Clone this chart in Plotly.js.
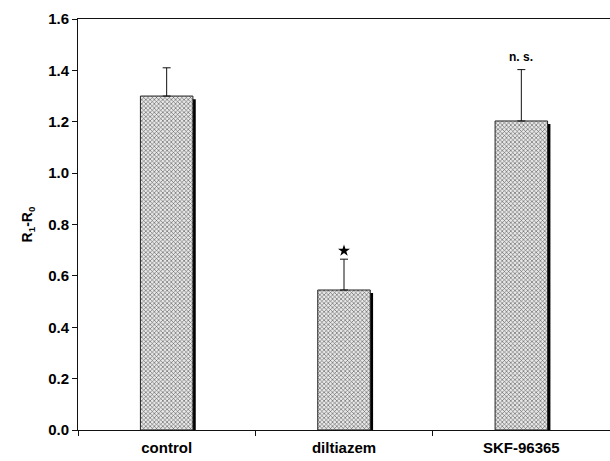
<!DOCTYPE html>
<html>
<head>
<meta charset="utf-8">
<script src="https://cdn.plot.ly/plotly-3.0.1.min.js"></script>
<style>html,body{margin:0;padding:0;background:#fff;}#chart{width:610px;height:461px;}</style>
</head>
<body>
<div id="chart"></div>
<script>
// Data
const categories = ["control", "diltiazem", "SKF-96365"];
const means = [1.30, 0.545, 1.203];
const errPlus = [0.11, 0.12, 0.20];
const markLabels = ["", "★", "n. s."];
const markLevels = [null, 0.698, 1.452];
const yTitle = "R<sub>1</sub>-R<sub>0</sub>";

const FONT = "Liberation Sans, Arial, sans-serif";

const shadowTops = means.map(v => v - 0.012);

const shadow = {
  type: "bar", x: categories, y: shadowTops,
  width: 0.018, offset: 0.146,
  marker: {color: "#000", line: {width: 0}},
  hoverinfo: "skip", showlegend: false
};

const bars = {
  type: "bar", x: categories, y: means,
  width: 0.296, offset: -0.148,
  marker: {
    color: "#b0b0b0",
    line: {color: "#222", width: 1},
    pattern: {shape: "x", size: 3, solidity: 0.35, fgcolor: "#555", bgcolor: "#e8e8e8", fillmode: "replace"}
  },
  error_y: {type: "data", symmetric: false, array: errPlus, arrayminus: [0,0,0],
            color: "#111", thickness: 1, width: 4},
  showlegend: false
};

const starIdx = markLabels.map((t,i)=>t==="★"?i:-1).filter(i=>i>=0);
const star = {
  type: "scatter", mode: "markers",
  x: starIdx.map(i=>categories[i]), y: starIdx.map(i=>markLevels[i]),
  marker: {symbol: "star", size: 9, color: "#000"},
  showlegend: false, hoverinfo: "skip"
};

const annotations = [];
markLabels.forEach((t,i)=>{
  if (t && t !== "★") {
    annotations.push({x: categories[i], y: markLevels[i], xref: "x", yref: "y",
      text: "<b>"+t+"</b>", showarrow: false,
      font: {family: FONT, size: 12, color: "#000"}});
  }
});

const layout = {
  width: 610, height: 461,
  margin: {l: 78, r: 0, t: 19, b: 31},
  paper_bgcolor: "#fff", plot_bgcolor: "#fff",
  barmode: "overlay",
  xaxis: {
    type: "category", range: [-0.5, 2.5],
    showline: true, linecolor: "#111", linewidth: 1, mirror: true,
    ticks: "outside", tickson: "boundaries", ticklen: 5, tickcolor: "#111",
    ticklabelstandoff: 4,
    showgrid: false, zeroline: false,
    tickfont: {family: FONT, size: 15, color: "#000", weight: "bold"}
  },
  yaxis: {
    range: [0, 1.6], dtick: 0.2, tickformat: ".1f",
    showline: true, linecolor: "#111", linewidth: 1,
    ticks: "outside", ticklen: 5, tickcolor: "#111",
    showgrid: false, zeroline: false,
    tickfont: {family: FONT, size: 15, color: "#000", weight: "bold"},
    title: {text: yTitle, font: {family: FONT, size: 14, color: "#000", weight: "bold"}, standoff: 12}
  },
  annotations: annotations
};

Plotly.newPlot("chart", [shadow, bars, star], layout, {displayModeBar: false, staticPlot: true});
</script>
</body>
</html>
